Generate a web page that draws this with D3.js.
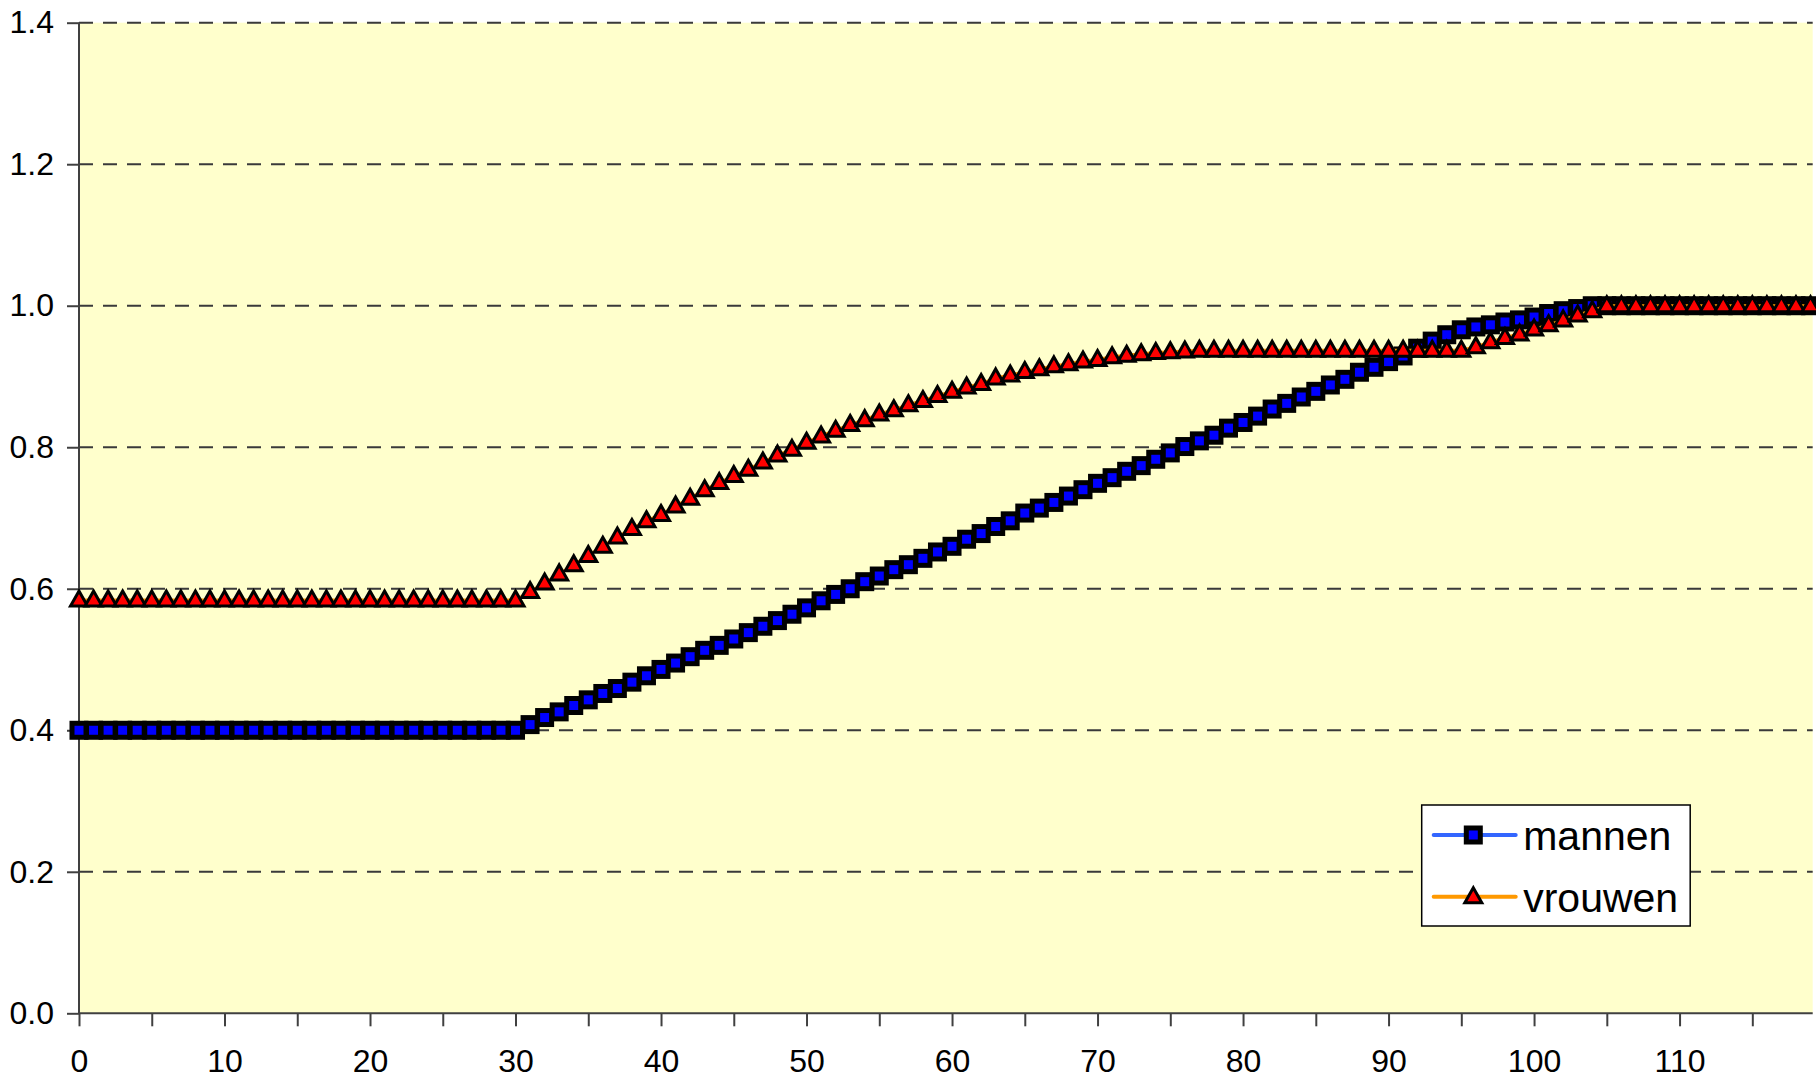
<!DOCTYPE html>
<html>
<head>
<meta charset="utf-8">
<script src="https://cdn.jsdelivr.net/npm/d3@7/dist/d3.min.js"></script>
<style>
  html, body { margin: 0; padding: 0; background: #ffffff; }
  svg { display: block; font-family: "Liberation Sans", Arial, sans-serif; }
</style>
</head>
<body>
<svg id="chart" width="1816" height="1081"></svg>
<script>
// Age categories (years)
const ages = [
  0, 1, 2, 3, 4, 5, 6, 7, 8, 9, 10, 11, 12, 13, 14, 15, 16, 17, 18, 19,
  20, 21, 22, 23, 24, 25, 26, 27, 28, 29, 30, 31, 32, 33, 34, 35, 36, 37, 38, 39,
  40, 41, 42, 43, 44, 45, 46, 47, 48, 49, 50, 51, 52, 53, 54, 55, 56, 57, 58, 59,
  60, 61, 62, 63, 64, 65, 66, 67, 68, 69, 70, 71, 72, 73, 74, 75, 76, 77, 78, 79,
  80, 81, 82, 83, 84, 85, 86, 87, 88, 89, 90, 91, 92, 93, 94, 95, 96, 97, 98, 99,
  100, 101, 102, 103, 104, 105, 106, 107, 108, 109, 110, 111, 112, 113, 114, 115, 116, 117, 118, 119
];

// Men
const mannen = [
  0.400, 0.400, 0.400, 0.400, 0.400, 0.400, 0.400, 0.400, 0.400, 0.400,
  0.400, 0.400, 0.400, 0.400, 0.400, 0.400, 0.400, 0.400, 0.400, 0.400,
  0.400, 0.400, 0.400, 0.400, 0.400, 0.400, 0.400, 0.400, 0.400, 0.400,
  0.400, 0.408, 0.418, 0.426, 0.435, 0.443, 0.452, 0.459, 0.468, 0.477,
  0.486, 0.495, 0.504, 0.513, 0.520, 0.529, 0.538, 0.547, 0.555, 0.564,
  0.573, 0.583, 0.592, 0.600, 0.610, 0.618, 0.627, 0.634, 0.643, 0.652,
  0.660, 0.670, 0.678, 0.688, 0.696, 0.707, 0.714, 0.722, 0.731, 0.740,
  0.749, 0.757, 0.766, 0.774, 0.783, 0.792, 0.801, 0.809, 0.817, 0.827,
  0.835, 0.844, 0.854, 0.862, 0.871, 0.879, 0.888, 0.896, 0.906, 0.913,
  0.921, 0.929, 0.940, 0.950, 0.959, 0.966, 0.970, 0.973, 0.977, 0.980,
  0.984, 0.989, 0.993, 0.996, 1.000, 1.000, 1.000, 1.000, 1.000, 1.000,
  1.000, 1.000, 1.000, 1.000, 1.000, 1.000, 1.000, 1.000, 1.000, 1.000
];

// Women
const vrouwen = [
  0.584, 0.584, 0.584, 0.584, 0.584, 0.584, 0.584, 0.584, 0.584, 0.584,
  0.584, 0.584, 0.584, 0.584, 0.584, 0.584, 0.584, 0.584, 0.584, 0.584,
  0.584, 0.584, 0.584, 0.584, 0.584, 0.584, 0.584, 0.584, 0.584, 0.584,
  0.584, 0.596, 0.608, 0.621, 0.634, 0.647, 0.660, 0.673, 0.685, 0.696,
  0.705, 0.717, 0.728, 0.740, 0.750, 0.760, 0.769, 0.779, 0.789, 0.797,
  0.807, 0.816, 0.824, 0.832, 0.839, 0.847, 0.853, 0.860, 0.866, 0.873,
  0.879, 0.885, 0.890, 0.898, 0.902, 0.907, 0.911, 0.915, 0.918, 0.922,
  0.924, 0.928, 0.930, 0.932, 0.934, 0.935, 0.936, 0.937, 0.937, 0.937,
  0.937, 0.937, 0.937, 0.937, 0.937, 0.937, 0.937, 0.937, 0.937, 0.937,
  0.937, 0.937, 0.937, 0.937, 0.937, 0.937, 0.942, 0.949, 0.955, 0.960,
  0.967, 0.973, 0.980, 0.987, 0.993, 1.000, 1.000, 1.000, 1.000, 1.000,
  1.000, 1.000, 1.000, 1.000, 1.000, 1.000, 1.000, 1.000, 1.000, 1.000
];

const seriesNames = ["mannen", "vrouwen"];
const xTicks = [0, 5, 10, 15, 20, 25, 30, 35, 40, 45, 50, 55, 60, 65, 70, 75, 80, 85, 90, 95, 100, 105, 110, 115];
const xLabels = [0, 10, 20, 30, 40, 50, 60, 70, 80, 90, 100, 110];
const yTicks = [0.0, 0.2, 0.4, 0.6, 0.8, 1.0, 1.2, 1.4];
const xMax = 119.15;
const yMax = 1.4;

const W = 1816, H = 1081;
const margin = { top: 22.7, right: 3.3, bottom: 67.7, left: 79 };
const iw = W - margin.left - margin.right;
const ih = H - margin.top - margin.bottom;

const svg = d3.select("#chart");
const g = svg.append("g").attr("transform", `translate(${margin.left},${margin.top})`);

const x = d3.scaleLinear().domain([0, xMax]).range([0, iw]);
const y = d3.scaleLinear().domain([0, yMax]).range([ih, 0]);

// Plot area background
g.append("rect")
  .attr("x", 0).attr("y", 0)
  .attr("width", iw).attr("height", ih)
  .attr("fill", "#ffffcc");

// Dashed horizontal gridlines
g.append("g")
  .selectAll("line")
  .data(yTicks.filter(v => v > 0))
  .join("line")
  .attr("x1", 0).attr("x2", iw)
  .attr("y1", d => y(d)).attr("y2", d => y(d))
  .attr("stroke", "#3a3a3a")
  .attr("stroke-width", 2)
  .attr("stroke-dasharray", "14,10");

// Y axis
const yAxis = g.append("g")
  .call(d3.axisLeft(y).tickValues(yTicks).tickFormat(d3.format(".1f")).tickSize(12).tickPadding(13));
yAxis.select(".domain").attr("stroke", "#404040").attr("stroke-width", 2).attr("d", `M0,${ih}V0`);
yAxis.selectAll(".tick line").attr("stroke", "#404040").attr("stroke-width", 2);
yAxis.selectAll(".tick text")
  .attr("font-size", 32)
  .attr("font-family", "Liberation Sans, Arial, sans-serif")
  .attr("fill", "#000");

// X axis
const xAxis = g.append("g")
  .attr("transform", `translate(0,${ih})`)
  .call(d3.axisBottom(x).tickValues(xTicks)
    .tickFormat(d => xLabels.includes(d) ? d : "")
    .tickSize(13).tickPadding(23));
xAxis.select(".domain").attr("stroke", "#404040").attr("stroke-width", 2).attr("d", `M0,0H${iw}`);
xAxis.selectAll(".tick line").attr("stroke", "#404040").attr("stroke-width", 2);
xAxis.selectAll(".tick text")
  .attr("font-size", 32)
  .attr("font-family", "Liberation Sans, Arial, sans-serif")
  .attr("fill", "#000");

const lineGen = vals => d3.line()
  .x((d, i) => x(ages[i]))
  .y(d => y(d))(vals);

const squareSide = 14;
const squareStroke = 5;
const triPath = "M0,-9L8.5,6L-8.5,6Z";

// Men: line and square markers
g.append("path")
  .attr("d", lineGen(mannen))
  .attr("fill", "none")
  .attr("stroke", "#3366ff")
  .attr("stroke-width", 3);
g.append("g")
  .selectAll("rect")
  .data(mannen)
  .join("rect")
  .attr("x", (d, i) => x(ages[i]) - squareSide / 2)
  .attr("y", d => y(d) - squareSide / 2)
  .attr("width", squareSide).attr("height", squareSide)
  .attr("fill", "#0000ff")
  .attr("stroke", "#000")
  .attr("stroke-width", squareStroke);

// Women: line and triangle markers
g.append("path")
  .attr("d", lineGen(vrouwen))
  .attr("fill", "none")
  .attr("stroke", "#ff9900")
  .attr("stroke-width", 3);
g.append("g")
  .selectAll("path")
  .data(vrouwen)
  .join("path")
  .attr("d", triPath)
  .attr("transform", (d, i) => `translate(${x(ages[i])},${y(d)})`)
  .attr("fill", "#ff0000")
  .attr("stroke", "#000")
  .attr("stroke-width", 3)
  .attr("stroke-linejoin", "miter");

// Legend
const legend = svg.append("g").attr("transform", "translate(1421.7,805)");
legend.append("rect")
  .attr("x", 0).attr("y", 0)
  .attr("width", 268.5).attr("height", 121)
  .attr("fill", "#ffffff")
  .attr("stroke", "#000")
  .attr("stroke-width", 1.5);

const rows = [
  { name: seriesNames[0], color: "#3366ff", ry: 30 },
  { name: seriesNames[1], color: "#ff9900", ry: 91.7 }
];
rows.forEach((r, k) => {
  const row = legend.append("g").attr("transform", `translate(0,${r.ry})`);
  row.append("line")
    .attr("x1", 12).attr("x2", 94)
    .attr("y1", 0).attr("y2", 0)
    .attr("stroke", r.color)
    .attr("stroke-width", 4)
    .attr("stroke-linecap", "round");
  if (k === 0) {
    row.append("rect")
      .attr("x", 51.6 - squareSide / 2).attr("y", -squareSide / 2)
      .attr("width", squareSide).attr("height", squareSide)
      .attr("fill", "#0000ff").attr("stroke", "#000").attr("stroke-width", squareStroke);
  } else {
    row.append("path")
      .attr("d", triPath)
      .attr("transform", "translate(51.6,0)")
      .attr("fill", "#ff0000").attr("stroke", "#000").attr("stroke-width", 3);
  }
  row.append("text")
    .attr("x", 101.5)
    .attr("y", 15)
    .attr("font-size", 41)
    .attr("fill", "#000")
    .text(r.name);
});
</script>
</body>
</html>
